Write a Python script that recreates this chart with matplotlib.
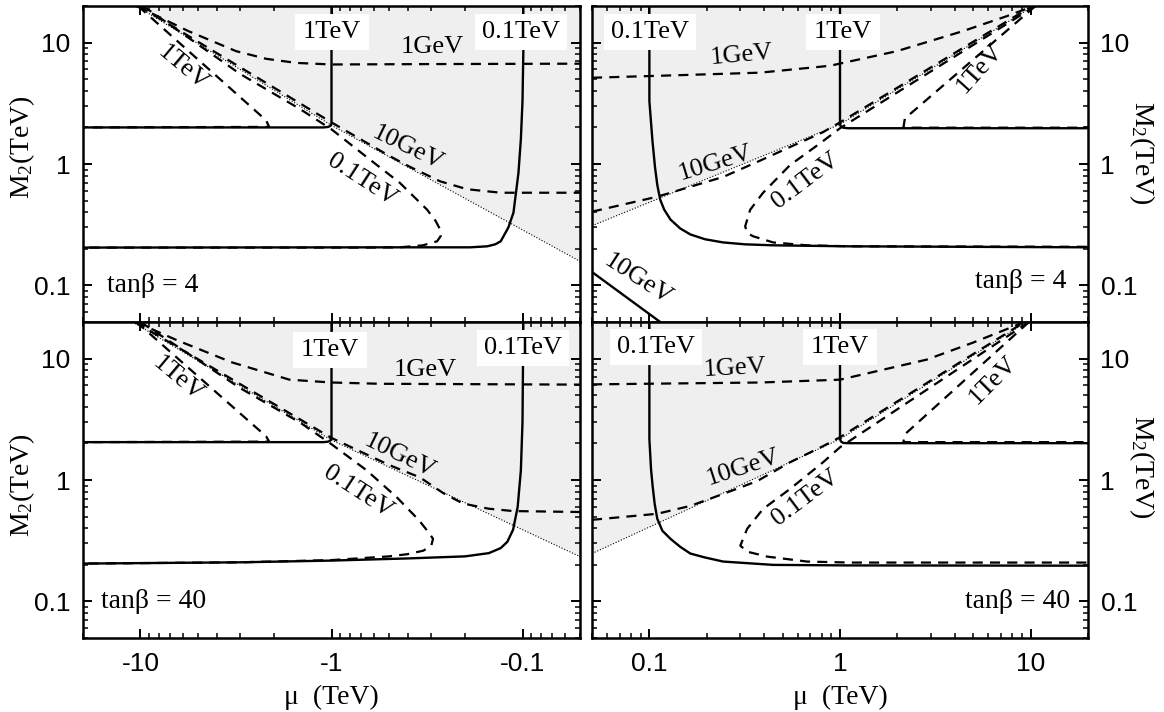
import numpy as np
import matplotlib
matplotlib.use("Agg")
import matplotlib.pyplot as plt
from matplotlib.ticker import LogLocator, FixedLocator, FuncFormatter, NullFormatter

# ---------------- data (mu in TeV, M2 in TeV) ----------------
# Top-left: tan(beta)=4, mu<0
TL_dot_mu = [-10.5, -1.0, -0.05]
TL_dot_m2 = [20, 2.08, 0.158]
TL_sol1_mu = [-20, -1.1, -1.04, -1.01, -1.0, -1.0]
TL_sol1_m2 = [2.0, 2.0, 2.02, 2.07, 2.15, 20]
TL_sol01_mu = [-20, -0.4, -0.188, -0.153, -0.139, -0.13, -0.1186, -0.1115, -0.105, -0.102, -0.1, -0.099, -0.099]
TL_sol01_m2 = [0.205, 0.206, 0.206, 0.21, 0.218, 0.231, 0.30, 0.398, 0.845, 1.6, 3.3, 8.5, 20]
TL_1gev_mu = [-10.5, -5.6, -3.16, -2.2, -1.53, -1.0, -0.3, -0.05]
TL_1gev_m2 = [20, 12.4, 8.5, 7.35, 6.8, 6.6, 6.65, 6.7]
TL_10gev_mu = [-10.2, -1.0, -0.5, -0.39, -0.27, -0.195, -0.13, -0.05]
TL_10gev_m2 = [20, 2.2, 1.17, 0.95, 0.72, 0.62, 0.58, 0.58]
TL_01tev_mu = [-9.7, -3.0, -1.47, -1.0, -0.654, -0.439, -0.316, -0.285, -0.27, -0.268, -0.28, -0.332, -0.439, -0.7, -20]
TL_01tev_m2 = [20, 5.5, 2.85, 1.93, 1.14, 0.70, 0.421, 0.34, 0.289, 0.255, 0.231, 0.214, 0.206, 0.205, 0.205]
TL_1tev_mu = [-10.3, -2.2, -2.12, -20]
TL_1tev_m2 = [20, 2.29, 2.02, 2.0]

# Top-right: tan(beta)=4, mu>0
TR_dot_mu = [0.05, 1.0, 10.4]
TR_dot_m2 = [0.31, 2.12, 20]
TR_sol1_mu = [1.0, 1.0, 1.01, 1.04, 1.1, 20]
TR_sol1_m2 = [20, 2.12, 2.04, 1.99, 1.97, 1.97]
TR_sol01_mu = [0.1, 0.1, 0.1037, 0.107, 0.110, 0.114, 0.1196, 0.129, 0.145, 0.164, 0.196, 0.244, 0.318, 0.446, 1.1, 20]
TR_sol01_m2 = [20, 3.3, 1.57, 0.945, 0.674, 0.508, 0.421, 0.349, 0.295, 0.263, 0.24, 0.226, 0.218, 0.214, 0.21, 0.206]
TR_1gev_mu = [0.05, 0.15, 0.38, 0.886, 1.99, 4.4, 7.5, 10.4]
TR_1gev_m2 = [5.13, 5.4, 5.65, 6.44, 8.5, 12.4, 16.5, 20]
TR_10gev_mu = [0.05, 0.11, 0.244, 0.368, 0.547, 0.815, 1.0, 10.2]
TR_10gev_m2 = [0.405, 0.538, 0.783, 1.04, 1.38, 1.83, 2.2, 20]
TR_01tev_mu = [10.6, 1.0, 0.786, 0.547, 0.395, 0.338, 0.318, 0.327, 0.35, 0.446, 0.672, 1.13, 20]
TR_01tev_m2 = [20, 1.97, 1.48, 0.98, 0.58, 0.42, 0.306, 0.27, 0.254, 0.226, 0.214, 0.21, 0.208]
TR_1tev_mu = [10.6, 2.19, 2.15, 20]
TR_1tev_m2 = [20, 2.37, 1.99, 1.99]
TR_sol10gev_mu = [0.05, 0.114]
TR_sol10gev_m2 = [0.129, 0.05]

# Bottom-left: tan(beta)=40, mu<0
BL_dot_mu = [-11.0, -1.0, -0.05]
BL_dot_m2 = [20, 2.13, 0.234]
BL_sol1_mu = [-20, -1.1, -1.04, -1.01, -1.0, -1.0]
BL_sol1_m2 = [2.05, 2.05, 2.07, 2.12, 2.2, 20]
BL_sol01_mu = [-20, -3.0, -1.0, -0.4, -0.2, -0.15, -0.13, -0.12, -0.112, -0.106, -0.102, -0.1, -0.099]
BL_sol01_m2 = [0.205, 0.21, 0.217, 0.226, 0.235, 0.25, 0.275, 0.31, 0.39, 0.6, 1.2, 3.0, 20]
BL_1gev_mu = [-10.6, -6.54, -3.32, -1.66, -1.0, -0.559, -0.05]
BL_1gev_m2 = [20, 14.3, 9.3, 6.7, 6.35, 6.2, 6.1]
BL_10gev_mu = [-10.7, -1.0, -0.5, -0.344, -0.26, -0.205, -0.15, -0.112, -0.05]
BL_10gev_m2 = [20, 2.22, 1.33, 1.05, 0.78, 0.64, 0.58, 0.555, 0.545]
BL_01tev_mu = [-10.0, -3.0, -1.45, -1.0, -0.654, -0.455, -0.35, -0.31, -0.294, -0.3, -0.33, -0.4, -0.5, -1.0, -3.0, -20]
BL_01tev_m2 = [20, 5.7, 2.95, 1.97, 1.2, 0.72, 0.47, 0.37, 0.328, 0.29, 0.262, 0.245, 0.235, 0.219, 0.21, 0.205]
BL_1tev_mu = [-10.5, -2.2, -2.12, -20]
BL_1tev_m2 = [20, 2.29, 2.07, 2.05]

# Bottom-right: tan(beta)=40, mu>0
BR_dot_mu = [0.05, 1.0, 9.5]
BR_dot_m2 = [0.248, 2.17, 20]
BR_sol1_mu = [1.0, 1.0, 1.01, 1.04, 1.1, 20]
BR_sol1_m2 = [20, 2.2, 2.08, 2.02, 2.01, 2.01]
BR_sol01_mu = [0.1, 0.1, 0.102, 0.104, 0.1066, 0.110, 0.117, 0.129, 0.145, 0.164, 0.196, 0.244, 0.446, 1.1, 20]
BR_sol01_m2 = [20, 2.17, 1.23, 0.89, 0.636, 0.48, 0.382, 0.328, 0.282, 0.248, 0.23, 0.213, 0.2, 0.198, 0.197]
BR_1gev_mu = [0.05, 0.381, 1.0, 2.85, 4.97, 9.3]
BR_1gev_m2 = [6.13, 6.35, 6.7, 9.8, 13.5, 20]
BR_10gev_mu = [0.05, 0.11, 0.164, 0.244, 0.368, 0.547, 0.815, 1.0, 9.3]
BR_10gev_m2 = [0.47, 0.527, 0.612, 0.768, 0.98, 1.4, 1.9, 2.25, 20]
BR_01tev_mu = [9.8, 1.0, 0.815, 0.547, 0.395, 0.326, 0.30, 0.326, 0.415, 0.672, 1.13, 20]
BR_01tev_m2 = [20, 1.86, 1.40, 0.844, 0.578, 0.397, 0.288, 0.257, 0.234, 0.213, 0.209, 0.209]
BR_1tev_mu = [9.8, 2.19, 2.15, 20]
BR_1tev_m2 = [20, 2.38, 2.05, 2.05]

MU_MIN, MU_MAX = 0.05, 20
M2_MIN, M2_MAX = 0.05, 20
MAJOR_TICKS = [0.1, 1, 10]
TANB = ["4", "40"]

# ---------------- styling ----------------
SERIF = "Liberation Serif"
SANS = "Liberation Sans"
plt.rcParams["mathtext.fontset"] = "custom"
plt.rcParams["mathtext.rm"] = SERIF
plt.rcParams["mathtext.it"] = SERIF + ":italic"
GRAY = "#efefef"
LW = 1.7
DASH = (4.5, 3.2)

W, H = 1164, 712
fig = plt.figure(figsize=(W / 100, H / 100), dpi=100)


def rect(l, t, r, b):
    return [l / W, 1 - b / H, (r - l) / W, (b - t) / H]


axTL = fig.add_axes(rect(83, 6, 580, 322))
axTR = fig.add_axes(rect(592, 6, 1088, 322))
axBL = fig.add_axes(rect(83, 322, 580, 638))
axBR = fig.add_axes(rect(592, 322, 1088, 638))


def setup(ax, left, bottom):
    ax.set_xscale("log")
    ax.set_yscale("log")
    ax.set_ylim(M2_MIN, M2_MAX)
    if left:
        ax.set_xlim(MU_MAX, MU_MIN)
    else:
        ax.set_xlim(MU_MIN, MU_MAX)
    for a in (ax.xaxis, ax.yaxis):
        a.set_major_locator(FixedLocator(MAJOR_TICKS))
        a.set_minor_locator(LogLocator(base=10, subs=np.arange(2, 10), numticks=20))
        a.set_minor_formatter(NullFormatter())
    if left:
        ax.xaxis.set_major_formatter(FuncFormatter(lambda v, p: "-%g" % v))
    else:
        ax.xaxis.set_major_formatter(FuncFormatter(lambda v, p: "%g" % v))
    ax.yaxis.set_major_formatter(FuncFormatter(lambda v, p: "%g" % v))
    ax.tick_params(which="both", direction="in", top=True, bottom=True, left=True, right=True)
    ax.tick_params(which="major", length=6.5, width=1.4)
    ax.tick_params(which="minor", length=3.5, width=1.1)
    ax.tick_params(axis="x", labelbottom=bottom, pad=10)
    ax.tick_params(axis="y", labelleft=left, labelright=not left, pad=9)
    for lab in ax.get_xticklabels() + ax.get_yticklabels():
        lab.set_fontfamily(SANS)
        lab.set_fontsize(19)
    for s in ax.spines.values():
        s.set_linewidth(1.8)


def shade(ax, mu, m2):
    x = list(np.abs(mu)) + [MU_MIN]
    y = list(m2) + [M2_MAX]
    ax.fill(x, y, color=GRAY, lw=0, zorder=0)


def solid(ax, mu, m2):
    ax.plot(np.abs(mu), m2, color="black", lw=LW, zorder=3, solid_joinstyle="round")


def dashed(ax, mu, m2):
    ax.plot(np.abs(mu), m2, color="black", lw=LW * 0.95, dashes=DASH, zorder=3)


def dotted(ax, mu, m2):
    ax.plot(np.abs(mu), m2, color="black", lw=0.8, dashes=(1, 1.6), zorder=2)


panels = [
    (axTL, True, False, TL_dot_mu, TL_dot_m2, [(TL_sol1_mu, TL_sol1_m2), (TL_sol01_mu, TL_sol01_m2)],
     [(TL_1gev_mu, TL_1gev_m2), (TL_10gev_mu, TL_10gev_m2), (TL_01tev_mu, TL_01tev_m2), (TL_1tev_mu, TL_1tev_m2)]),
    (axTR, False, False, TR_dot_mu, TR_dot_m2,
     [(TR_sol1_mu, TR_sol1_m2), (TR_sol01_mu, TR_sol01_m2), (TR_sol10gev_mu, TR_sol10gev_m2)],
     [(TR_1gev_mu, TR_1gev_m2), (TR_10gev_mu, TR_10gev_m2), (TR_01tev_mu, TR_01tev_m2), (TR_1tev_mu, TR_1tev_m2)]),
    (axBL, True, True, BL_dot_mu, BL_dot_m2, [(BL_sol1_mu, BL_sol1_m2), (BL_sol01_mu, BL_sol01_m2)],
     [(BL_1gev_mu, BL_1gev_m2), (BL_10gev_mu, BL_10gev_m2), (BL_01tev_mu, BL_01tev_m2), (BL_1tev_mu, BL_1tev_m2)]),
    (axBR, False, True, BR_dot_mu, BR_dot_m2, [(BR_sol1_mu, BR_sol1_m2), (BR_sol01_mu, BR_sol01_m2)],
     [(BR_1gev_mu, BR_1gev_m2), (BR_10gev_mu, BR_10gev_m2), (BR_01tev_mu, BR_01tev_m2), (BR_1tev_mu, BR_1tev_m2)]),
]

for ax, left, bottom, dmu, dm2, sols, dashs in panels:
    setup(ax, left, bottom)
    shade(ax, dmu, dm2)
    dotted(ax, dmu, dm2)
    for mu, m2 in sols:
        solid(ax, mu, m2)
    for mu, m2 in dashs:
        dashed(ax, mu, m2)


# ---------------- text ----------------
def ftext(px, py, s, rot=0, box=False, ha="center", size=19, family=SERIF):
    kw = {}
    if box:
        kw["bbox"] = dict(boxstyle="square,pad=0.28", fc="white", ec="none")
    fig.text(px / W, 1 - py / H, s, rotation=rot, ha=ha, va="center", fontsize=size,
             family=family, rotation_mode="anchor", zorder=10, **kw)


# top-left
ftext(332, 32, "1TeV", box=True)
ftext(521, 32, "0.1TeV", box=True)
ftext(432, 47, "1GeV")
ftext(408, 148, "10GeV", rot=-26)
ftext(362, 180, "0.1TeV", rot=-33)
ftext(183, 68, "1TeV", rot=-40)
ftext(107, 285, "tan\u03b2 = " + TANB[0], ha="left", size=20)
# top-right
ftext(650, 32, "0.1TeV", box=True)
ftext(843, 32, "1TeV", box=True)
ftext(742, 55, "1GeV", rot=5)
ftext(715, 163, "10GeV", rot=17)
ftext(806, 181, "0.1TeV", rot=37)
ftext(980, 68, "1TeV", rot=48)
ftext(638, 280, "10GeV", rot=-33)
ftext(1066, 281, "tan\u03b2 = " + TANB[0], ha="right", size=20)
# bottom-left
ftext(330, 350, "1TeV", box=True)
ftext(523, 348, "0.1TeV", box=True)
ftext(425, 370, "1GeV")
ftext(400, 456, "10GeV", rot=-26)
ftext(358, 492, "0.1TeV", rot=-33)
ftext(178, 379, "1TeV", rot=-40)
ftext(101, 602, "tan\u03b2 = " + TANB[1], ha="left", size=20)
# bottom-right
ftext(656, 347, "0.1TeV", box=True)
ftext(840, 347, "1TeV", box=True)
ftext(735, 368, "1GeV", rot=3)
ftext(743, 468, "10GeV", rot=18)
ftext(806, 498, "0.1TeV", rot=37)
ftext(993, 380, "1TeV", rot=45)
ftext(1070, 601, "tan\u03b2 = " + TANB[1], ha="right", size=20)

# axis labels
ftext(22, 147, r"M$_2$(TeV)", rot=90, size=20)
ftext(22, 485, r"M$_2$(TeV)", rot=90, size=20)
ftext(1142, 153, r"M$_2$(TeV)", rot=-90, size=20)
ftext(1142, 467, r"M$_2$(TeV)", rot=-90, size=20)
ftext(331, 697, "\u03bc  (TeV)", size=20)
ftext(840, 697, "\u03bc  (TeV)", size=20)

fig.savefig("out.png", dpi=100)
